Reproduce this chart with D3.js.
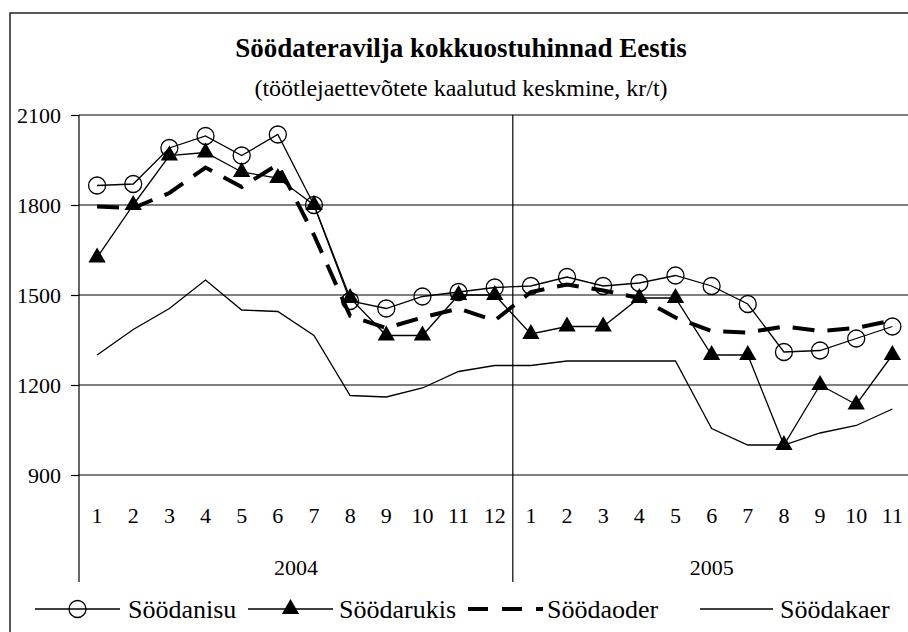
<!DOCTYPE html>
<html>
<head>
<meta charset="utf-8">
<script src="https://cdn.jsdelivr.net/npm/d3@7"></script>
<style>
  body { margin: 0; background: #fff; }
</style>
</head>
<body>
<svg id="chart"></svg>
<script>
const width = 908;
const height = 632;
const FONT = "'Liberation Serif', 'Times New Roman', Tinos, 'DejaVu Serif', serif";

// months 2004-01 .. 2005-11
const months = ["1","2","3","4","5","6","7","8","9","10","11","12","1","2","3","4","5","6","7","8","9","10","11"];
const years = [{label: "2004", from: 0, to: 11}, {label: "2005", from: 12, to: 22}];
const yTicks = [900, 1200, 1500, 1800, 2100];

const nisu  = [1865,1870,1990,2030,1965,2035,1800,1480,1455,1495,1510,1525,1530,1560,1530,1540,1565,1530,1470,1310,1315,1355,1395];
const rukis = [1625,1800,1965,1975,1910,1890,1800,1490,1365,1365,1500,1500,1370,1395,1395,1490,1490,1300,1300,1000,1200,1135,1300];
const oder  = [1795,1790,1840,1925,1860,1935,1700,1430,1390,1425,1455,1415,1510,1535,1515,1490,1425,1380,1375,1395,1380,1390,1415];
const kaer  = [1300,1385,1455,1550,1450,1445,1365,1165,1160,1190,1245,1265,1265,1280,1280,1280,1280,1055,1000,1000,1040,1065,1120];

const seriesNames = ["Söödanisu", "Söödarukis", "Söödaoder", "Söödakaer"];

const plotLeft = 79, plotTop = 115, plotBottom = 475;

const svg = d3.select("#chart")
    .attr("width", width)
    .attr("height", height)
    .style("font-family", FONT);

// outer frame
svg.append("rect")
    .attr("x", 10).attr("y", 13)
    .attr("width", 920).attr("height", 650)
    .attr("fill", "none")
    .attr("stroke", "#222")
    .attr("stroke-width", 1.5);

svg.append("text")
    .attr("x", 461).attr("y", 48)
    .attr("text-anchor", "middle")
    .attr("dominant-baseline", "central")
    .style("font-family", FONT)
    .attr("font-size", 27)
    .attr("font-weight", "bold")
    .text("Söödateravilja kokkuostuhinnad Eestis");

svg.append("text")
    .attr("x", 461).attr("y", 88)
    .attr("text-anchor", "middle")
    .attr("dominant-baseline", "central")
    .style("font-family", FONT)
    .attr("font-size", 24)
    .text("(töötlejaettevõtete kaalutud keskmine, kr/t)");

const x = d3.scaleBand()
    .domain(d3.range(months.length))
    .range([plotLeft, plotLeft + 36.15 * months.length]);

const y = d3.scaleLinear()
    .domain([900, 2100])
    .range([plotBottom, plotTop]);

const cx = i => x(i) + x.bandwidth() / 2;

// gridlines
svg.append("g")
    .selectAll("line")
    .data(yTicks)
    .enter().append("line")
    .attr("x1", plotLeft).attr("x2", width)
    .attr("y1", d => y(d)).attr("y2", d => y(d))
    .attr("stroke", "#000")
    .attr("stroke-width", 1.2);

// left axis
const yAxis = d3.axisLeft(y)
    .tickValues(yTicks)
    .tickFormat(d3.format("d"))
    .tickSize(8)
    .tickPadding(10)
    .tickSizeOuter(0);

const gy = svg.append("g")
    .attr("transform", `translate(${plotLeft},0)`)
    .call(yAxis)
    .attr("font-family", null);
gy.select(".domain").remove();
gy.selectAll("line").attr("stroke", "#000").attr("stroke-width", 1.2);
gy.selectAll("text")
    .style("font-family", FONT)
    .attr("font-size", 22)
    .attr("fill", "#000");

// vertical axis line and year divider
[plotLeft, x(years[1].from)].forEach(xx => {
    svg.append("line")
        .attr("x1", xx).attr("x2", xx)
        .attr("y1", plotTop).attr("y2", 582)
        .attr("stroke", "#000")
        .attr("stroke-width", 1.2);
});

// month labels
svg.append("g")
    .selectAll("text")
    .data(months)
    .enter().append("text")
    .attr("x", (d, i) => cx(i))
    .attr("y", 515)
    .attr("text-anchor", "middle")
    .attr("dominant-baseline", "central")
    .style("font-family", FONT)
    .attr("font-size", 22)
    .text(d => d);

// year labels
svg.append("g")
    .selectAll("text")
    .data(years)
    .enter().append("text")
    .attr("x", d => (x(d.from) + x(d.to) + x.bandwidth()) / 2)
    .attr("y", 567)
    .attr("text-anchor", "middle")
    .attr("dominant-baseline", "central")
    .style("font-family", FONT)
    .attr("font-size", 22)
    .text(d => d.label);

const line = d3.line()
    .x((d, i) => cx(i))
    .y(d => y(d));

const triangle = d3.symbol().type(d3.symbolTriangle).size(130);

// Söödanisu
svg.append("path")
    .attr("d", line(nisu))
    .attr("fill", "none")
    .attr("stroke", "#000")
    .attr("stroke-width", 1.3);

svg.append("g")
    .selectAll("circle")
    .data(nisu)
    .enter().append("circle")
    .attr("cx", (d, i) => cx(i))
    .attr("cy", d => y(d))
    .attr("r", 8.5)
    .attr("fill", "none")
    .attr("stroke", "#000")
    .attr("stroke-width", 1.3);

// Söödarukis
svg.append("path")
    .attr("d", line(rukis))
    .attr("fill", "none")
    .attr("stroke", "#000")
    .attr("stroke-width", 1.3);

svg.append("g")
    .selectAll("path")
    .data(rukis)
    .enter().append("path")
    .attr("d", triangle)
    .attr("transform", (d, i) => `translate(${cx(i)},${y(d)})`)
    .attr("fill", "#000");

// Söödaoder
svg.append("path")
    .attr("d", line(oder))
    .attr("fill", "none")
    .attr("stroke", "#000")
    .attr("stroke-width", 4)
    .attr("stroke-dasharray", "22,13");

// Söödakaer
svg.append("path")
    .attr("d", line(kaer))
    .attr("fill", "none")
    .attr("stroke", "#000")
    .attr("stroke-width", 1.3);

// legend
const legendY = 609;
const legendItems = [
    {name: seriesNames[0], x1: 35, x2: 120, text: 128, marker: "circle"},
    {name: seriesNames[1], x1: 248, x2: 333, text: 339, marker: "triangle"},
    {name: seriesNames[2], x1: 468, x2: 543, text: 547, dash: true},
    {name: seriesNames[3], x1: 700, x2: 773, text: 780}
];

const lg = svg.append("g");
legendItems.forEach(item => {
    lg.append("line")
        .attr("x1", item.x1).attr("x2", item.x2)
        .attr("y1", legendY).attr("y2", legendY)
        .attr("stroke", "#000")
        .attr("stroke-width", item.dash ? 4 : 1.3)
        .attr("stroke-dasharray", item.dash ? "20,14" : null);
    const mx = (item.x1 + item.x2) / 2;
    if (item.marker === "circle") {
        lg.append("circle")
            .attr("cx", mx).attr("cy", legendY).attr("r", 8.5)
            .attr("fill", "none").attr("stroke", "#000").attr("stroke-width", 1.3);
    } else if (item.marker === "triangle") {
        lg.append("path")
            .attr("d", triangle)
            .attr("transform", `translate(${mx},${legendY})`)
            .attr("fill", "#000");
    }
    lg.append("text")
        .attr("x", item.text).attr("y", legendY)
        .attr("dominant-baseline", "central")
        .style("font-family", FONT)
        .attr("font-size", 26)
        .text(item.name);
});
</script>
</body>
</html>
